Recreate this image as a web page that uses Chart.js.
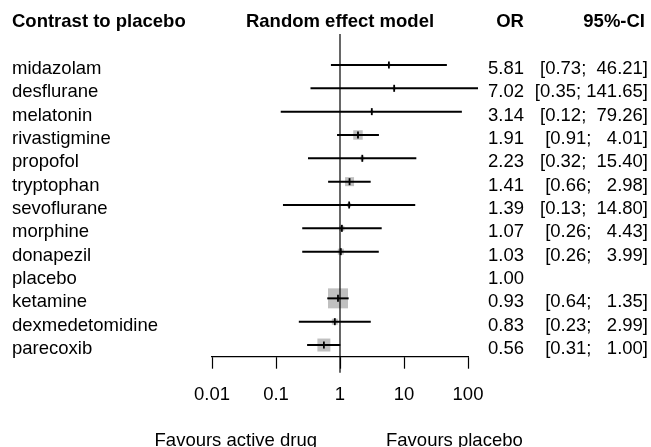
<!DOCTYPE html>
<html>
<head>
<meta charset="utf-8">
<script src="https://cdn.jsdelivr.net/npm/chart.js@4"></script>
<style>
  body { margin: 0; background: #fff; }
  #wrap { width: 651px; height: 447px; }
</style>
</head>
<body>
<div id="wrap"><canvas id="forestChart" width="651" height="447"></canvas></div>
<script>
// data
const drugs = ["midazolam", "desflurane", "melatonin", "rivastigmine", "propofol", "tryptophan",
  "sevoflurane", "morphine", "donapezil", "placebo", "ketamine", "dexmedetomidine", "parecoxib"];
const orValues = [5.81, 7.02, 3.14, 1.91, 2.23, 1.41, 1.39, 1.07, 1.03, 1.00, 0.93, 0.83, 0.56];
const ciLower = [0.73, 0.35, 0.12, 0.91, 0.32, 0.66, 0.13, 0.26, 0.26, null, 0.64, 0.23, 0.31];
const ciUpper = [46.21, 141.65, 79.26, 4.01, 15.40, 2.98, 14.80, 4.43, 3.99, null, 1.35, 2.99, 1.00];
// relative weights (%) -> size of the grey squares
const weights = [0.9, 0.9, 0.9, 9.0, 1.6, 8.1, 1.6, 2.5, 3.6, null, 40.0, 3.6, 16.9];
const tickValues = [0.01, 0.1, 1, 10, 100];
const tickLabels = ["0.01", "0.1", "1", "10", "100"];

const FONT = "'Liberation Sans', Arial, sans-serif";
const FSIZE = 18.5;

// build datasets from the arrays
const ciData = drugs.map((d, i) => (ciLower[i] == null ? null : [ciLower[i], ciUpper[i]]));
const boxPoints = [];
const boxRadius = [];
const estPoints = [];
drugs.forEach((d, i) => {
  if (weights[i] == null) return;
  boxPoints.push({ x: orValues[i], y: d });
  boxRadius.push((3.16 * Math.sqrt(weights[i])) / Math.SQRT2);
  estPoints.push({ x: orValues[i], y: d });
});

// text columns, reference line and footer
const forestText = {
  id: "forestText",
  afterDatasetsDraw(chart) {
    const ctx = chart.ctx;
    const xs = chart.scales.x;
    const ys = chart.scales.y;
    const x1 = xs.getPixelForValue(1);

    ctx.save();
    // line of no effect
    ctx.strokeStyle = "#000";
    ctx.lineWidth = 1.2;
    ctx.beginPath();
    ctx.moveTo(x1, 34);
    ctx.lineTo(x1, xs.top + 16);
    ctx.stroke();

    ctx.fillStyle = "#000";
    ctx.textBaseline = "alphabetic";
    ctx.font = "bold " + FSIZE + "px " + FONT;
    ctx.textAlign = "left";
    ctx.fillText("Contrast to placebo", 12, 27);
    ctx.textAlign = "center";
    ctx.fillText("Random effect model", x1, 27);
    ctx.fillText("OR", 510, 27);
    ctx.textAlign = "right";
    ctx.fillText("95%-CI", 645, 27);

    ctx.font = FSIZE + "px " + FONT;
    ctx.textBaseline = "middle";
    drugs.forEach((d, i) => {
      const y = ys.getPixelForValue(i) + 4;
      ctx.textAlign = "left";
      ctx.fillText(orValues[i].toFixed(2), 488, y);
      if (ciLower[i] != null) {
        const ci = "[" + ciLower[i].toFixed(2) + "; " + ciUpper[i].toFixed(2).padStart(6, " ") + "]";
        ctx.textAlign = "right";
        ctx.fillText(ci, 648, y);
      }
    });

    ctx.textBaseline = "alphabetic";
    ctx.textAlign = "right";
    ctx.fillText("Favours active drug", x1 - 23, 446);
    ctx.textAlign = "left";
    ctx.fillText("Favours placebo", x1 + 46, 446);
    ctx.restore();
  }
};

const ctx = document.getElementById("forestChart").getContext("2d");
const forestChart = new Chart(ctx, {
  type: "bar",
  data: {
    labels: drugs,
    datasets: [
      {
        type: "scatter",
        label: "OR",
        data: estPoints,
        pointStyle: "line",
        rotation: 90,
        pointRadius: 3.5,
        borderColor: "#000",
        borderWidth: 1.8,
        clip: false,
        order: 0
      },
      {
        type: "bar",
        label: "95%-CI",
        data: ciData,
        backgroundColor: "#000",
        borderWidth: 0,
        barThickness: 1.3,
        clip: false,
        order: 1
      },
      {
        type: "scatter",
        label: "weight",
        data: boxPoints,
        pointStyle: "rect",
        pointRadius: boxRadius,
        backgroundColor: "#c0c0c0",
        borderWidth: 0,
        clip: false,
        order: 2
      }
    ]
  },
  options: {
    indexAxis: "y",
    responsive: false,
    devicePixelRatio: 1,
    animation: false,
    layout: { padding: { left: 12, right: 183, top: 53.3, bottom: 30.3 } },
    plugins: {
      legend: { display: false },
      tooltip: { enabled: false }
    },
    scales: {
      x: {
        type: "logarithmic",
        min: 0.01,
        max: 100,
        afterBuildTicks: (scale) => {
          scale.ticks = tickValues.map((v) => ({ value: v }));
        },
        afterFit: (scale) => {
          scale.height = 60;
        },
        ticks: {
          autoSkip: false,
          maxRotation: 0,
          padding: 15,
          color: "#000",
          font: { family: FONT, size: FSIZE },
          callback: (v) => tickLabels[tickValues.indexOf(v)]
        },
        grid: {
          display: true,
          drawOnChartArea: false,
          drawTicks: true,
          tickLength: 12,
          tickColor: "#000",
          tickWidth: 1.2
        },
        border: { display: true, color: "#000", width: 1.2 }
      },
      y: {
        type: "category",
        offset: true,
        afterFit: (scale) => {
          scale.width = 200;
        },
        ticks: {
          autoSkip: false,
          crossAlign: "far",
          labelOffset: 4,
          color: "#000",
          font: { family: FONT, size: FSIZE }
        },
        grid: { display: false },
        border: { display: false }
      }
    }
  },
  plugins: [forestText]
});
</script>
</body>
</html>
